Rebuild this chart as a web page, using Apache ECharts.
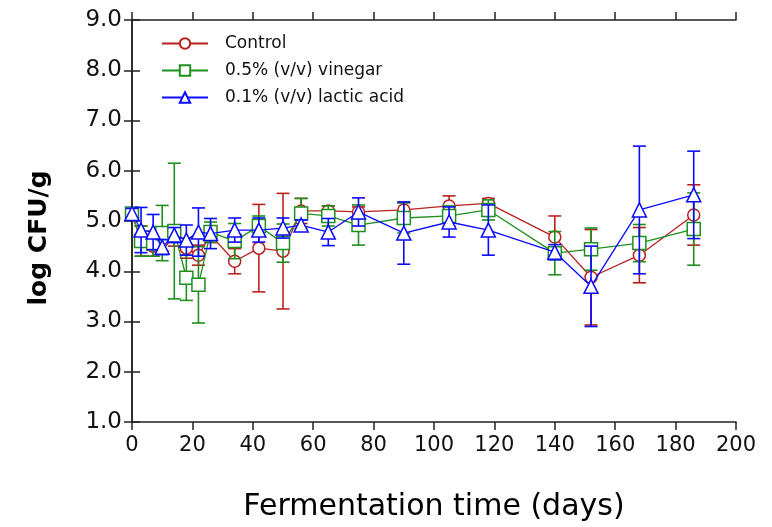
<!DOCTYPE html>
<html><head><meta charset="utf-8">
<script src="https://cdn.jsdelivr.net/npm/echarts@6/dist/echarts.min.js"></script>
<style>html,body{margin:0;padding:0;background:#fff}#c{width:772px;height:527px}</style>
</head><body><div id="c"></div>
<script>
const days = [0,3,7,10,14,18,22,26,34,42,50,56,65,75,90,105,118,140,152,168,186];
const control = [5.15,4.6,4.5,4.6,4.7,4.46,4.32,4.72,4.2,4.46,4.4,5.2,5.2,5.18,5.22,5.3,5.35,4.68,3.88,4.32,5.12];
const controlErr = [0.08,0.3,0.2,0.2,0.2,0.2,0.2,0.15,0.25,0.87,1.15,0.25,0.1,0.1,0.15,0.2,0.1,0.42,0.95,0.55,0.6];
const vinegar = [5.15,4.6,4.55,4.76,4.8,3.87,3.73,4.78,4.6,4.9,4.56,5.15,5.1,4.92,5.06,5.1,5.22,4.36,4.44,4.56,4.84];
const vinegarErr = [0.1,0.3,0.25,0.55,1.35,0.45,0.76,0.2,0.35,0.2,0.38,0.3,0.2,0.4,0.3,0.2,0.2,0.43,0.42,0.37,0.72];
const lactic = [5.15,4.82,4.78,4.48,4.72,4.62,4.78,4.75,4.82,4.82,4.86,4.92,4.78,5.18,4.76,4.98,4.82,4.38,3.7,5.22,5.52];
const lacticErr = [0.1,0.45,0.35,0.15,0.15,0.3,0.48,0.3,0.24,0.24,0.2,0.1,0.27,0.28,0.62,0.3,0.5,0.15,0.8,1.27,0.87];
const names = ['Control','0.5% (v/v) vinegar','0.1% (v/v) lactic acid'];
const colors = ['#b8211f','#1f8f1f','#0a0aff'];
const symbols = ['circle','rect','triangle'];
const symSizes = [12, 13, 14];
const vals = [control, vinegar, lactic];
const errs = [controlErr, vinegarErr, lacticErr];

const font = 'DejaVu Sans';
const chart = echarts.init(document.getElementById('c'));
const series = [];
vals.forEach((v, i) => {
  series.push({
    type: 'custom', name: names[i] + ' error', z: 2 + i*3,
    data: days.map((d, k) => [d, v[k] - errs[i][k], v[k] + errs[i][k]]),
    renderItem: (params, api) => {
      const x = api.value(0);
      const lo = api.coord([x, api.value(1)]);
      const hi = api.coord([x, api.value(2)]);
      const w = 6.5;
      const st = {stroke: colors[i], lineWidth: 1.6};
      return {type: 'group', children: [
        {type: 'line', shape: {x1: lo[0], y1: lo[1], x2: hi[0], y2: hi[1]}, style: st},
        {type: 'line', shape: {x1: lo[0]-w, y1: lo[1], x2: lo[0]+w, y2: lo[1]}, style: st},
        {type: 'line', shape: {x1: hi[0]-w, y1: hi[1], x2: hi[0]+w, y2: hi[1]}, style: st}
      ]};
    },
    silent: true
  });
  series.push({
    type: 'line', name: names[i], z: 3 + i*3,
    data: days.map((d, k) => [d, v[k]]),
    symbol: symbols[i], symbolSize: symSizes[i],
    showAllSymbol: true,
    color: colors[i],
    lineStyle: {color: colors[i], width: 1.3},
    itemStyle: {color: '#fff', borderColor: colors[i], borderWidth: 1.5},
    emphasis: {disabled: true},
    animation: false
  });
});

chart.setOption({
  animation: false,
  grid: {left: 132, right: 36, top: 20, bottom: 105},
  legend: {
    left: 156, top: 30, orient: 'vertical', itemWidth: 46, itemHeight: 13, itemGap: 10,
    data: names,
    textStyle: {fontFamily: font, fontSize: 17, color: '#111', padding: [0,0,0,12]}
  },
  xAxis: [
    {type: 'value', min: 0, max: 200, interval: 20, position: 'bottom',
     name: 'Fermentation time (days)', nameLocation: 'middle', nameGap: 70,
     nameTextStyle: {fontFamily: font, fontSize: 30, color: '#000'},
     axisLine: {show: true, lineStyle: {color: '#222', width: 1.5}},
     axisTick: {show: true, inside: false, length: 8, lineStyle: {color: '#222', width: 1.5}},
     axisLabel: {fontFamily: font, fontSize: 21, color: '#111', margin: 13},
     splitLine: {show: false}},
    {type: 'value', min: 0, max: 200, interval: 20, position: 'top',
     axisLine: {show: true, lineStyle: {color: '#222', width: 1.5}},
     axisTick: {show: true, inside: false, length: 8, lineStyle: {color: '#222', width: 1.5}},
     axisLabel: {show: false}, splitLine: {show: false}}
  ],
  yAxis: [
    {type: 'value', min: 1, max: 9, interval: 1, position: 'left',
     name: 'log CFU/g', nameLocation: 'middle', nameGap: 80,
     nameTextStyle: {fontFamily: font, fontSize: 25, fontWeight: 'bold', color: '#000', padding: [0, 34, 0, 0]},
     axisLine: {show: true, lineStyle: {color: '#222', width: 1.5}},
     axisTick: {show: true, inside: false, length: 8, lineStyle: {color: '#222', width: 1.5}},
     axisLabel: {fontFamily: font, fontSize: 23, color: '#111', margin: 10, formatter: v => v.toFixed(1)},
     splitLine: {show: false}},
    {type: 'value', min: 1, max: 9, interval: 1, position: 'right',
     axisLine: {show: true, lineStyle: {color: '#222', width: 1.5}},
     axisTick: {show: true, inside: false, length: 8, lineStyle: {color: '#222', width: 1.5}},
     axisLabel: {show: false}, splitLine: {show: false}}
  ],
  series: series
});
</script></body></html>
